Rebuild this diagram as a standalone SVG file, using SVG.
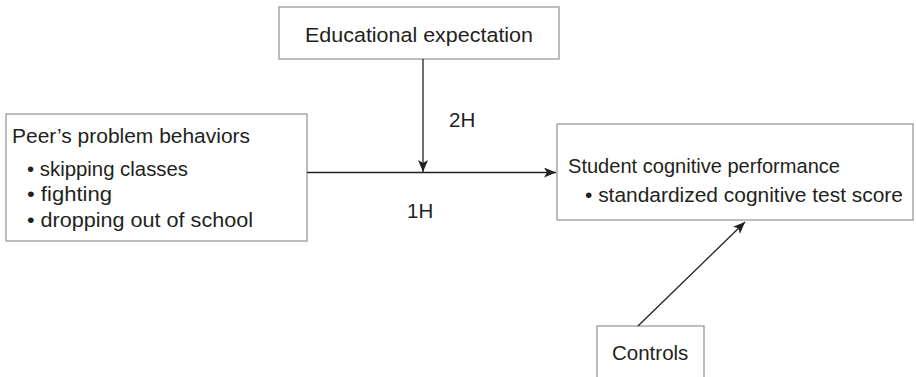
<svg xmlns="http://www.w3.org/2000/svg" width="916" height="377" viewBox="0 0 916 377">
<style>
.box{fill:#fff;stroke:#9a9a9a;stroke-width:1.3}
.t{font-family:"Liberation Sans",Arial,sans-serif;font-size:20.5px;fill:#231f20}
.line{stroke:#231f20;stroke-width:1.3;fill:none}
</style>
<defs>
<marker id="arr" viewBox="0 0 12 10" refX="12" refY="5" markerWidth="12" markerHeight="10" markerUnits="userSpaceOnUse" orient="auto">
<path d="M0,0 L12,5 L0,10 L3,5 z" fill="#231f20"/>
</marker>
</defs>
<g id="educational-expectation">
<rect class="box" x="279" y="7" width="280" height="52"/>
<text class="t" x="419" y="42" text-anchor="middle" textLength="228" lengthAdjust="spacingAndGlyphs">Educational expectation</text>
</g>
<g id="peer-problem-behaviors">
<rect class="box" x="6" y="114" width="301" height="127"/>
<text class="t" x="12" y="143" textLength="238" lengthAdjust="spacingAndGlyphs">Peer’s problem behaviors</text>
<text class="t" x="27" y="176" textLength="161" lengthAdjust="spacingAndGlyphs">• skipping classes</text>
<text class="t" x="27" y="201" textLength="85" lengthAdjust="spacingAndGlyphs">• fighting</text>
<text class="t" x="27" y="227" textLength="226" lengthAdjust="spacingAndGlyphs">• dropping out of school</text>
</g>
<g id="student-cognitive-performance">
<rect class="box" x="557" y="124" width="356" height="96"/>
<text class="t" x="568" y="173" textLength="272" lengthAdjust="spacingAndGlyphs">Student cognitive performance</text>
<text class="t" x="585" y="202" textLength="318" lengthAdjust="spacingAndGlyphs">• standardized cognitive test score</text>
</g>
<g id="controls">
<rect class="box" x="597" y="326" width="107" height="60"/>
<text class="t" x="612" y="360">Controls</text>
</g>
<g id="connectors">
<line class="line" x1="307" y1="172.5" x2="556" y2="172.5" marker-end="url(#arr)"/>
<line class="line" x1="423" y1="59" x2="423" y2="172" marker-end="url(#arr)"/>
<line class="line" x1="638" y1="326" x2="745" y2="222" marker-end="url(#arr)"/>
<text class="t" x="449" y="127">2H</text>
<text class="t" x="407" y="218">1H</text>
</g>
</svg>
